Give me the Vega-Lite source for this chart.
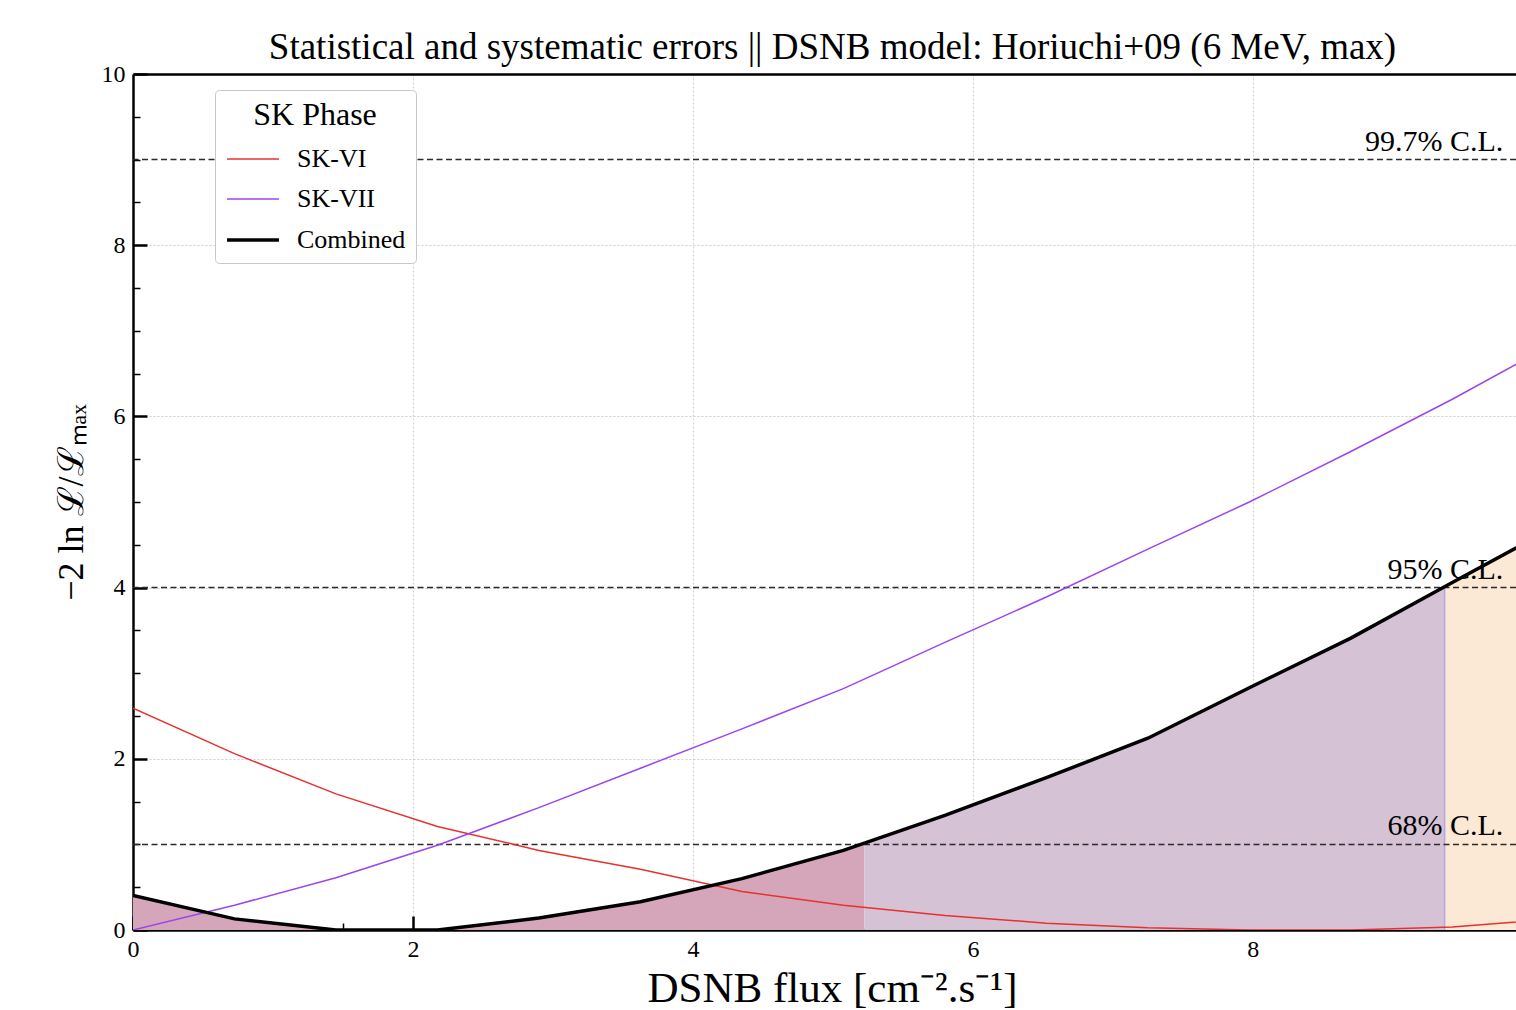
{
  "$schema": "https://vega.github.io/schema/vega-lite/v6.json",
  "autosize": {"type": "none"},
  "width": 1383,
  "height": 856,
  "padding": {"left": 133, "top": 74, "right": 0, "bottom": 80},
  "background": "white",
  "config": {
    "font": "Liberation Serif",
    "view": {"stroke": null},
    "axis": {
      "domainColor": "black",
      "domainWidth": 2.5,
      "tickColor": "black",
      "labelColor": "black",
      "labelFont": "Liberation Serif",
      "labelFontSize": 24,
      "titleColor": "black",
      "titleFont": "Liberation Serif",
      "titleFontWeight": "normal",
      "gridColor": "#cfcfcf",
      "gridDash": [2, 2],
      "gridWidth": 1,
      "labelOverlap": false,
      "labelFlush": false,
      "zindex": 1
    }
  },
  "title": {
    "text": "Statistical and systematic errors || DSNB model: Horiuchi+09 (6 MeV, max)",
    "font": "Liberation Serif",
    "fontSize": 37,
    "fontWeight": "normal",
    "color": "black",
    "baseline": "bottom",
    "offset": 0,
    "dy": 42,
    "dx": 8
  },
  "datasets": {
    "curves": [
      {"x": 0, "y": 2.59, "series": "SK-VI"},
      {"x": 0.725, "y": 2.06, "series": "SK-VI"},
      {"x": 1.45, "y": 1.59, "series": "SK-VI"},
      {"x": 2.175, "y": 1.21, "series": "SK-VI"},
      {"x": 2.9, "y": 0.93, "series": "SK-VI"},
      {"x": 3.625, "y": 0.71, "series": "SK-VI"},
      {"x": 4.35, "y": 0.45, "series": "SK-VI"},
      {"x": 5.075, "y": 0.29, "series": "SK-VI"},
      {"x": 5.8, "y": 0.17, "series": "SK-VI"},
      {"x": 6.525, "y": 0.08, "series": "SK-VI"},
      {"x": 7.25, "y": 0.025, "series": "SK-VI"},
      {"x": 7.975, "y": 0.0, "series": "SK-VI"},
      {"x": 8.7, "y": 0.0, "series": "SK-VI"},
      {"x": 9.425, "y": 0.035, "series": "SK-VI"},
      {"x": 10.15, "y": 0.13, "series": "SK-VI"},
      {"x": 0, "y": 0.0, "series": "SK-VII"},
      {"x": 0.725, "y": 0.29, "series": "SK-VII"},
      {"x": 1.45, "y": 0.61, "series": "SK-VII"},
      {"x": 2.175, "y": 0.99, "series": "SK-VII"},
      {"x": 2.9, "y": 1.43, "series": "SK-VII"},
      {"x": 3.625, "y": 1.89, "series": "SK-VII"},
      {"x": 4.35, "y": 2.35, "series": "SK-VII"},
      {"x": 5.075, "y": 2.82, "series": "SK-VII"},
      {"x": 5.8, "y": 3.36, "series": "SK-VII"},
      {"x": 6.525, "y": 3.89, "series": "SK-VII"},
      {"x": 7.25, "y": 4.45, "series": "SK-VII"},
      {"x": 7.975, "y": 5.0, "series": "SK-VII"},
      {"x": 8.7, "y": 5.59, "series": "SK-VII"},
      {"x": 9.425, "y": 6.2, "series": "SK-VII"},
      {"x": 10.15, "y": 6.85, "series": "SK-VII"},
      {"x": 0, "y": 0.405, "series": "Combined"},
      {"x": 0.725, "y": 0.13, "series": "Combined"},
      {"x": 1.45, "y": 0.0, "series": "Combined"},
      {"x": 2.175, "y": 0.0, "series": "Combined"},
      {"x": 2.9, "y": 0.14, "series": "Combined"},
      {"x": 3.625, "y": 0.33, "series": "Combined"},
      {"x": 4.35, "y": 0.6, "series": "Combined"},
      {"x": 5.075, "y": 0.93, "series": "Combined"},
      {"x": 5.8, "y": 1.34, "series": "Combined"},
      {"x": 6.525, "y": 1.78, "series": "Combined"},
      {"x": 7.25, "y": 2.24, "series": "Combined"},
      {"x": 7.975, "y": 2.83, "series": "Combined"},
      {"x": 8.7, "y": 3.41, "series": "Combined"},
      {"x": 9.425, "y": 4.06, "series": "Combined"},
      {"x": 10.15, "y": 4.7, "series": "Combined"}
    ],
    "regions": [
      {"x": 0, "y": 0.405, "region": "68%"},
      {"x": 0.725, "y": 0.13, "region": "68%"},
      {"x": 1.45, "y": 0.0, "region": "68%"},
      {"x": 2.175, "y": 0.0, "region": "68%"},
      {"x": 2.9, "y": 0.14, "region": "68%"},
      {"x": 3.625, "y": 0.33, "region": "68%"},
      {"x": 4.35, "y": 0.6, "region": "68%"},
      {"x": 5.075, "y": 0.93, "region": "68%"},
      {"x": 5.225, "y": 1.0, "region": "68%"},
      {"x": 5.225, "y": 1.0, "region": "95%"},
      {"x": 5.8, "y": 1.34, "region": "95%"},
      {"x": 6.525, "y": 1.78, "region": "95%"},
      {"x": 7.25, "y": 2.24, "region": "95%"},
      {"x": 7.975, "y": 2.83, "region": "95%"},
      {"x": 8.7, "y": 3.41, "region": "95%"},
      {"x": 9.37, "y": 4.0, "region": "95%"},
      {"x": 9.37, "y": 4.0, "region": "99.7%"},
      {"x": 9.425, "y": 4.06, "region": "99.7%"},
      {"x": 10.15, "y": 4.7, "region": "99.7%"}
    ],
    "levels": [
      {"level": 1, "label": "68% C.L."},
      {"level": 4, "label": "95% C.L."},
      {"level": 9, "label": "99.7% C.L."}
    ],
    "edge": [
      {"x": 9.37, "y": 0, "y2": 4.0}
    ]
  },
  "resolve": {"axis": {"x": "independent"}},
  "layer": [
    {
      "data": {"name": "regions"},
      "mark": {"type": "area", "clip": true, "interpolate": "linear"},
      "encoding": {
        "x": {
          "field": "x", "type": "quantitative",
          "scale": {"domain": [0, 9.88], "nice": false, "zero": false},
          "axis": {
            "values": [0, 0.5, 1, 1.5, 2, 2.5, 3, 3.5, 4, 4.5, 5, 5.5, 6, 6.5, 7, 7.5, 8, 8.5, 9, 9.5],
            "labelExpr": "datum.value % 2 === 0 ? format(datum.value, 'd') : ''",
            "tickSize": {"condition": {"test": "datum.value % 2 === 0", "value": -14}, "value": -7},
            "tickWidth": {"condition": {"test": "datum.value % 2 === 0", "value": 2.5}, "value": 1.5},
            "gridOpacity": {"condition": {"test": "datum.value % 2 === 0", "value": 1}, "value": 0},
            "labelPadding": 21,
            "title": "DSNB flux [cm⁻².s⁻¹]",
            "titleFontSize": 43,
            "titleX": 699,
            "titleY": 58,
            "titleBaseline": "middle"
          }
        },
        "y": {
          "field": "y", "type": "quantitative", "stack": null,
          "scale": {"domain": [0, 10], "nice": false},
          "axis": {
            "values": [0, 0.5, 1, 1.5, 2, 2.5, 3, 3.5, 4, 4.5, 5, 5.5, 6, 6.5, 7, 7.5, 8, 8.5, 9, 9.5, 10],
            "labelExpr": "datum.value % 2 === 0 ? format(datum.value, 'd') : ''",
            "tickSize": {"condition": {"test": "datum.value % 2 === 0", "value": -14}, "value": -7},
            "tickWidth": {"condition": {"test": "datum.value % 2 === 0", "value": 2.5}, "value": 1.5},
            "gridOpacity": {"condition": {"test": "datum.value % 2 === 0", "value": 1}, "value": 0},
            "labelPadding": 22,
            "title": "−2 ln ℒ/ℒₘₐₓ",
            "titleFontSize": 36,
            "titleX": -62,
            "titleY": 428,
            "titleAlign": "center",
            "titleBaseline": "middle"
          }
        },
        "fill": {
          "field": "region", "type": "nominal",
          "scale": {"domain": ["68%", "95%", "99.7%"], "range": ["#d5a6ba", "#d5c2d5", "#fbe8d5"]},
          "legend": null
        }
      }
    },
    {
      "data": {"name": "edge"},
      "mark": {"type": "rule", "color": "#b3a8dd", "strokeWidth": 1.5},
      "encoding": {
        "x": {"field": "x", "type": "quantitative", "axis": null},
        "y": {"field": "y", "type": "quantitative"},
        "y2": {"field": "y2"}
      }
    },
    {
      "data": {"name": "levels"},
      "mark": {"type": "rule", "color": "#2b2b2b", "strokeWidth": 1.5, "strokeDash": [6, 3.5]},
      "encoding": {
        "y": {"field": "level", "type": "quantitative"}
      }
    },
    {
      "data": {"name": "levels"},
      "mark": {"type": "text", "align": "right", "baseline": "alphabetic", "dy": -9, "fontSize": 30, "font": "Liberation Serif", "color": "black"},
      "encoding": {
        "x": {"datum": 9.789, "type": "quantitative", "axis": null},
        "y": {"field": "level", "type": "quantitative"},
        "text": {"field": "label"}
      }
    },
    {
      "data": {"name": "curves"},
      "mark": {"type": "line", "clip": true, "interpolate": "linear"},
      "encoding": {
        "x": {
          "field": "x", "type": "quantitative",
          "axis": {"orient": "top", "labels": false, "ticks": false, "grid": false, "title": null, "domainWidth": 2.5}
        },
        "y": {"field": "y", "type": "quantitative"},
        "color": {
          "field": "series", "type": "nominal",
          "scale": {"domain": ["SK-VI", "SK-VII", "Combined"], "range": ["#e8302e", "#9b45ee", "#000000"]},
          "legend": {
            "title": "SK Phase", "orient": "none", "legendX": 82, "legendY": 16,
            "symbolType": "stroke", "symbolSize": 2700,
            "titleFontSize": 32, "titleFontWeight": "normal", "titleAnchor": "middle", "titlePadding": 0,
            "labelFontSize": 26, "labelOffset": 16, "rowPadding": -5,
            "padding": 10, "fillColor": "white", "strokeColor": "#c8c8c8", "cornerRadius": 4, "zindex": 2
          }
        },
        "strokeWidth": {
          "field": "series", "type": "nominal",
          "scale": {"type": "ordinal", "domain": ["SK-VI", "SK-VII", "Combined"], "range": [1.5, 1.5, 3.5]},
          "legend": {
            "title": "SK Phase", "orient": "none", "legendX": 82, "legendY": 16,
            "symbolType": "stroke", "symbolSize": 2700,
            "titleFontSize": 32, "titleFontWeight": "normal", "titleAnchor": "middle", "titlePadding": 0,
            "labelFontSize": 26, "labelOffset": 16, "rowPadding": -5,
            "padding": 10, "fillColor": "white", "strokeColor": "#c8c8c8", "cornerRadius": 4, "zindex": 2
          }
        }
      }
    }
  ]
}
